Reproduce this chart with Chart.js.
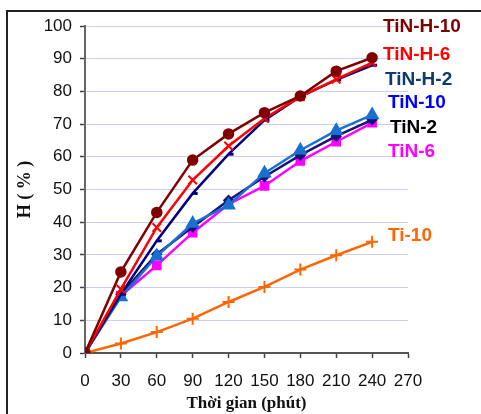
<!DOCTYPE html>
<html>
<head>
<meta charset="utf-8">
<script src="https://cdn.jsdelivr.net/npm/chart.js@4.4.1/dist/chart.umd.min.js"></script>
<style>
  html, body { margin: 0; padding: 0; background: #fff; }
  #wrap { width: 481px; height: 414px; position: relative; }
</style>
</head>
<body>
<div id="wrap"><canvas id="c" width="481" height="414"></canvas></div>
<script>
const times = [0, 30, 60, 90, 120, 150, 180, 210, 240];

const tinH10 = [0, 24.8, 43, 59, 67, 73.5, 78.6, 86.2, 90.3];
const tinH6  = [0, 19.5, 38.4, 52.9, 63.3, 71.7, 78.4, 83.7, 88.8];
const tinH2  = [0, 18, 34.3, 48.8, 60.8, 71.2, 78.4, 83.5, 88];
const tin10  = [0, 17.1, 29.6, 39.6, 45.2, 55, 62, 68, 72.8];
const tin2   = [0, 18, 30.2, 38.5, 46.7, 53.9, 60.5, 66.3, 71.3];
const tin6   = [0, 17.5, 26.8, 36.8, 45.5, 51.1, 58.7, 64.6, 70.4];
const ti10   = [0, 2.9, 6.4, 10.5, 15.6, 20.2, 25.5, 29.9, 34];

const seriesNames = ["TiN-H-10", "TiN-H-6", "TiN-H-2", "TiN-10", "TiN-2", "TiN-6", "Ti-10"];

// label text colours and where they sit (right side)
const labelColors = ["#800000", "#ff0000", "#0a3c6e", "#0000ff", "#000000", "#ff00ff", "#ff6600"];
const labelPos = [[383, 27], [383, 55], [385, 80], [388, 103], [390, 128], [388, 152], [388, 236]];

function pts(vals) {
    return times.map((t, i) => ({x: t, y: vals[i]}));
}

const frame = {
    id: "frame",
    beforeDraw(chart) {
        const ctx = chart.ctx;
        ctx.save();
        ctx.strokeStyle = "#222";
        ctx.lineWidth = 2;
        ctx.beginPath();
        ctx.moveTo(7, 414);
        ctx.lineTo(7, 11);
        ctx.lineTo(481, 11);
        ctx.stroke();
        ctx.restore();
    }
};

const seriesLabels = {
    id: "seriesLabels",
    afterDraw(chart) {
        const ctx = chart.ctx;
        ctx.save();
        ctx.font = "bold 19px 'Liberation Sans', Arial, sans-serif";
        ctx.textBaseline = "middle";
        ctx.textAlign = "left";
        seriesNames.forEach((n, i) => {
            ctx.fillStyle = labelColors[i];
            ctx.fillText(n, labelPos[i][0], labelPos[i][1]);
        });
        ctx.restore();
    }
};

const data = {
    datasets: [
        {label: "TiN-H-10", data: pts(tinH10), borderColor: "#800000", backgroundColor: "#800000",
         pointStyle: "circle", pointRadius: 4.5},
        {label: "TiN-H-6", data: pts(tinH6), borderColor: "#ff0000", backgroundColor: "#ff0000",
         pointStyle: "crossRot", pointRadius: 6, pointBorderWidth: 2},
        {label: "TiN-H-2", data: pts(tinH2), borderColor: "#000080", backgroundColor: "#000080",
         pointStyle: "dash", pointRadius: 5, pointBorderWidth: 3},
        {label: "TiN-10", data: pts(tin10), borderColor: "#1a6fd0", backgroundColor: "#1a6fd0",
         pointStyle: "triangle", pointRadius: 6},
        {label: "TiN-2", data: pts(tin2), borderColor: "#14147a", backgroundColor: "#14147a",
         pointStyle: "rectRot", pointRadius: 4},
        {label: "TiN-6", data: pts(tin6), borderColor: "#ff00ff", backgroundColor: "#ff00ff",
         pointStyle: "rect", pointRadius: 5},
        {label: "Ti-10", data: pts(ti10), borderColor: "#ff6600", backgroundColor: "#ff6600",
         pointStyle: "cross", pointRadius: 6, pointBorderWidth: 2}
    ]
};
data.datasets.forEach(d => {
    d.borderWidth = 2.5;
    d.fill = false;
    d.tension = 0;
    d.pointHoverRadius = d.pointRadius;
});

new Chart(document.getElementById("c"), {
    type: "line",
    data: data,
    options: {
        responsive: false,
        animation: false,
        layout: {padding: {left: 8, top: 26, right: 73, bottom: 0}},
        plugins: {legend: {display: false}, tooltip: {enabled: false}},
        scales: {
            x: {
                type: "linear",
                min: 0,
                max: 270,
                afterFit: s => { s.height = 61; },
                ticks: {stepSize: 30, padding: 13, color: "#111",
                        font: {family: "'Liberation Sans', Arial", size: 17}},
                grid: {drawOnChartArea: false, tickLength: 5, tickColor: "#444", tickWidth: 1.5},
                border: {color: "#555", width: 2},
                title: {display: true, text: "Thời gian (phút)", color: "#111",
                        padding: {top: 0, bottom: 0},
                        font: {family: "'Liberation Serif', 'Times New Roman', serif", size: 17, weight: "bold"}}
            },
            y: {
                min: 0,
                max: 100,
                afterFit: s => { s.width = 77; },
                ticks: {stepSize: 10, padding: 8, color: "#111",
                        font: {family: "'Liberation Sans', Arial", size: 17}},
                grid: {color: "#ccccf5", lineWidth: 1, tickLength: 5, tickColor: "#444", tickWidth: 1.5},
                border: {color: "#666", width: 2},
                title: {display: true, text: "H ( % )", color: "#111",
                        padding: {top: 7, bottom: 0},
                        font: {family: "'Liberation Serif', 'Times New Roman', serif", size: 18, weight: "bold"}}
            }
        }
    },
    plugins: [frame, seriesLabels]
});
</script>
</body>
</html>
